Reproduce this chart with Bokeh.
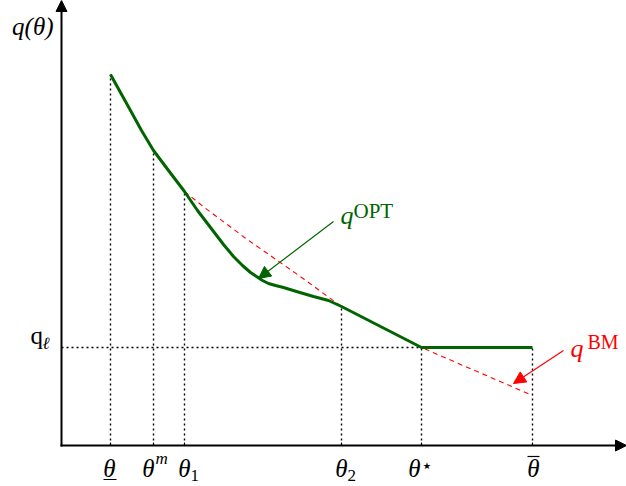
from bokeh.plotting import figure
from bokeh.models import Range1d, Arrow, NormalHead, Label
from bokeh.embed import file_html
from bokeh.resources import INLINE

# ---- data ----
theta_pos = [49, 92, 123, 280, 360, 471]          # θ_, θ^m, θ1, θ2, θ*, θ̄
theta_top = [371, 295, 254, 139, 98, 98]          # height of dotted guides
q_l = 98

green_x = [49, 59, 69, 80, 92, 107, 123, 136, 149, 162, 172, 181, 189, 195, 201,
           207, 214, 222, 235, 252, 267, 280, 360, 471]
green_y = [371, 353, 335, 315, 295, 275, 254, 235, 218, 201, 189, 180, 173, 169,
           165, 162, 160, 158, 154, 149, 145, 139, 98, 98]

red_x = [123, 143, 163, 183, 203, 223, 243, 262, 280, 360, 471]
red_y = [254, 238, 223, 208, 194, 180, 166, 152, 139, 98, 50]

opt_arrow = (272, 224, 197, 167)   # from (x0,y0) to (x1,y1)
bm_arrow = (502, 95, 452, 62)

GREEN = "#006400"
RED = "#ff0000"
SERIF = "Liberation Serif"

p = figure(width=626, height=486, output_backend="svg", toolbar_location=None,
           x_range=Range1d(-61, 565), y_range=Range1d(-41, 445),
           min_border=0, outline_line_color=None)
p.axis.visible = False
p.grid.visible = False

# dotted guides
for xp, top in zip(theta_pos, theta_top):
    p.line([xp, xp], [0, top], line_color="black", line_width=1.4, line_dash="2 3")
p.line([0, theta_pos[4]], [q_l, q_l], line_color="black", line_width=1.4, line_dash="2 3")

# small ticks on x axis
for xp in theta_pos:
    p.line([xp, xp], [0, 3], line_color="black", line_width=1)

# curves
p.line(red_x, red_y, line_color=RED, line_width=1.1, line_dash="5 4")
p.line(green_x, green_y, line_color=GREEN, line_width=3, line_join="round")

# axes with arrows
p.add_layout(Arrow(end=NormalHead(size=11, fill_color="black", line_color="black"),
                   x_start=0, y_start=-1, x_end=0, y_end=445,
                   line_width=2, line_color="black"))
p.add_layout(Arrow(end=NormalHead(size=11, fill_color="black", line_color="black"),
                   x_start=-1, y_start=0, x_end=565, y_end=0,
                   line_width=2, line_color="black"))

# annotation arrows
p.add_layout(Arrow(end=NormalHead(size=12, fill_color=GREEN, line_color=GREEN),
                   x_start=opt_arrow[0], y_start=opt_arrow[1],
                   x_end=opt_arrow[2], y_end=opt_arrow[3],
                   line_width=1.2, line_color=GREEN))
p.add_layout(Arrow(end=NormalHead(size=12, fill_color=RED, line_color=RED),
                   x_start=bm_arrow[0], y_start=bm_arrow[1],
                   x_end=bm_arrow[2], y_end=bm_arrow[3],
                   line_width=1.2, line_color=RED))

def txt(x, y, s, size, color="black", style="italic", align="left", baseline="alphabetic"):
    p.add_layout(Label(x=x, y=y, text=s, text_font=SERIF, text_font_size=f"{size}px",
                       text_font_style=style, text_color=color, text_align=align,
                       text_baseline=baseline))

BASE = -23
# θ labels
txt(theta_pos[0] - 1, BASE, "θ", 25, align="center")
p.line([theta_pos[0] - 7, theta_pos[0] + 6], [-34, -34], line_color="black", line_width=1.2)
txt(theta_pos[1] - 5, BASE, "θ", 25, align="center")
txt(theta_pos[1] + 2, -12.5, "m", 17)
txt(theta_pos[2], BASE, "θ", 25, align="center")
txt(theta_pos[2] + 6, -29.5, "1", 17, style="normal")
txt(theta_pos[3], BASE, "θ", 25, align="center")
txt(theta_pos[3] + 6, -29.5, "2", 17, style="normal")
txt(theta_pos[4] - 7, BASE, "θ", 25, align="center")
txt(theta_pos[4] - 1, -20, "⋆", 19, style="normal")
txt(theta_pos[5] + 1, BASE, "θ", 25, align="center")
p.line([theta_pos[5] - 5, theta_pos[5] + 7], [-11, -11], line_color="black", line_width=1.2)

# y labels
txt(-8, 419, "q(θ)", 25, align="right")
txt(-31, 110, "q", 25, style="normal")
txt(-19, 102, "ℓ", 17)

# series labels
txt(279, 230, "q", 26, color=GREEN)
txt(292, 235, "OPT", 21, color=GREEN, style="normal")
txt(509, 97, "q", 26, color=RED)
txt(526, 104, "BM", 20, color=RED, style="normal")

open("out.html", "w").write(file_html(p, INLINE))
